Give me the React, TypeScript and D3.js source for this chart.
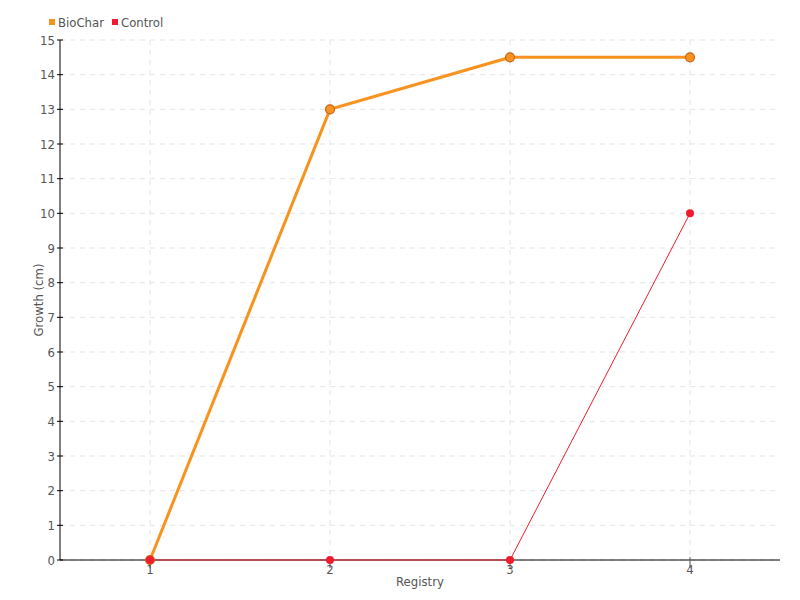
import React from "react";
import * as d3 from "d3";

const categories = [1, 2, 3, 4];
const biocharValues = [0, 13, 14.5, 14.5];
const controlValues = [0, 0, 0, 10];
const yTicks = [0, 1, 2, 3, 4, 5, 6, 7, 8, 9, 10, 11, 12, 13, 14, 15];

const W = 800, H = 600;
const FONT = "'DejaVu Sans Condensed', 'Liberation Sans Narrow', 'DejaVu Sans', sans-serif";

export default function App() {
  const x = d3.scaleLinear().domain([0.5, 4.5]).range([60, 780]);
  const y = d3.scaleLinear().domain([0, 15]).range([560, 40]);
  const line = d3.line<number>().x((_, i) => x(categories[i])).y((d) => y(d));
  const orange = "#f7931e";
  const red = "#ee1c2e";
  const txt = "#555";
  return (
    <svg width={W} height={H} style={{ position: "absolute", left: 0, top: 0, fontFamily: FONT }}>
      <rect width={W} height={H} fill="#fff" />
      {yTicks.map((t) => (
        <line key={"gy" + t} x1={60} x2={780} y1={y(t)} y2={y(t)} stroke="#e3e3e3" strokeDasharray="5,5" />
      ))}
      {categories.map((c) => (
        <line key={"gx" + c} x1={x(c)} x2={x(c)} y1={40} y2={560} stroke="#e3e3e3" strokeDasharray="5,5" />
      ))}
      <line x1={60} x2={60} y1={40} y2={560} stroke="#000" />
      <line x1={60} x2={780} y1={560} y2={560} stroke="#000" />
      {yTicks.map((t) => (
        <g key={"ty" + t}>
          <line x1={57} x2={63} y1={y(t)} y2={y(t)} stroke="#000" />
          <text x={55} y={y(t)} dy="0.35em" textAnchor="end" fontSize={13} fill={txt}>{t}</text>
        </g>
      ))}
      {categories.map((c) => (
        <g key={"tx" + c}>
          <line x1={x(c)} x2={x(c)} y1={557} y2={568} stroke="#555" />
          <text x={x(c)} y={574} textAnchor="middle" fontSize={13} fill={txt}>{c}</text>
        </g>
      ))}
      <text x={420} y={586} textAnchor="middle" fontSize={13} fill={txt}>Registry</text>
      <text transform={`translate(43,300) rotate(-90)`} textAnchor="middle" fontSize={13} fill={txt}>Growth (cm)</text>

      <path d={line(biocharValues) || ""} fill="none" stroke={orange} strokeWidth={3} />
      {biocharValues.map((v, i) => (
        <circle key={"b" + i} cx={x(categories[i])} cy={y(v)} r={4.5} fill={orange} stroke="#c8651b" strokeWidth={1.2} />
      ))}
      <path d={line(controlValues) || ""} fill="none" stroke={red} strokeWidth={1} />
      {controlValues.map((v, i) => (
        <circle key={"c" + i} cx={x(categories[i])} cy={y(v)} r={4} fill={red} />
      ))}

      <rect x={49} y={19} width={6} height={6} fill={orange} />
      <text x={58} y={27} fontSize={13} fill={txt}>BioChar</text>
      <rect x={112} y={19} width={6} height={6} fill={red} />
      <text x={121} y={27} fontSize={13} fill={txt}>Control</text>
    </svg>
  );
}
